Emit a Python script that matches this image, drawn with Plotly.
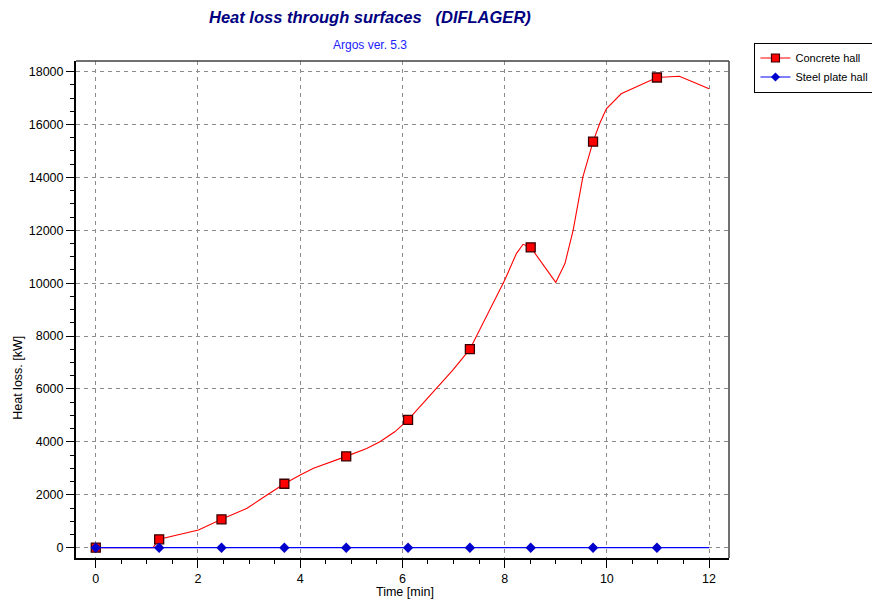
import plotly.graph_objects as go

# ---- data ----
concrete_line_t = [0.00, 1.12, 1.24, 1.65, 2.01, 2.46, 2.96, 3.35, 3.69, 4.00, 4.26,
                   4.90, 5.30, 5.56, 5.85, 6.11, 6.34, 6.80, 6.99, 7.32, 7.64, 8.00,
                   8.23, 8.36, 8.51, 8.82, 9.00, 9.18, 9.34, 9.53, 9.73, 9.86, 9.99,
                   10.28, 10.98, 11.42, 12.00]
concrete_line_kw = [0, 0, 317, 517, 668, 1073, 1488, 1990, 2417, 2745, 3000,
                    3452, 3754, 4003, 4380, 4830, 5325, 6337, 6722, 7504, 8724, 10110,
                    11120, 11470, 11356, 10487, 10030, 10740, 12000, 14011, 15350, 16035, 16594,
                    17160, 17776, 17825, 17350]

marker_t = [0, 1.24, 2.46, 3.69, 4.90, 6.11, 7.32, 8.51, 9.73, 10.98]
concrete_marker_kw = [0, 317, 1073, 2417, 3452, 4830, 7504, 11356, 15350, 17776]
steel_marker_kw = [0, 0, 0, 0, 0, 0, 0, 0, 0, 0]

steel_line_t = [0, 12]
steel_line_kw = [0, 0]

x_ticks = [0, 2, 4, 6, 8, 10, 12]
y_ticks = [0, 2000, 4000, 6000, 8000, 10000, 12000, 14000, 16000, 18000]

title_text = "Heat loss through surfaces   (DIFLAGER)"
subtitle_text = "Argos ver. 5.3"
x_title = "Time [min]"
y_title = "Heat loss. [kW]"
series_names = ["Concrete hall", "Steel plate hall"]

FONT = "Arial, Liberation Sans, sans-serif"
RED = "#FF0000"
BLUE = "#0000FF"

# page has an 8px body margin; plot frame in page pixels
OFF = 8
PL, PR, PT, PB = 75.5, 729.5, 60.5, 558.0
FIG_W, FIG_H = 880 - OFF, 608 - OFF


def px(x):
    return (x - PL) / (PR - PL)


def py(y):
    return (PB - y) / (PB - PT)


fig = go.Figure()

# Concrete hall: dense curve + markers
fig.add_trace(go.Scatter(x=concrete_line_t, y=concrete_line_kw, mode="lines",
                         line=dict(color=RED, width=1.1), showlegend=False,
                         legendgroup="c", hoverinfo="skip"))
fig.add_trace(go.Scatter(x=marker_t, y=concrete_marker_kw, mode="markers",
                         marker=dict(symbol="square", size=9, color=RED,
                                     line=dict(color="#3a0000", width=1.3)),
                         showlegend=False, legendgroup="c"))
fig.add_trace(go.Scatter(x=[None], y=[None], mode="lines+markers", name=series_names[0],
                         line=dict(color=RED, width=1.1),
                         marker=dict(symbol="square", size=8, color=RED,
                                     line=dict(color="#3a0000", width=1.2)),
                         legendgroup="c"))

# Steel plate hall
fig.add_trace(go.Scatter(x=steel_line_t, y=steel_line_kw, mode="lines",
                         line=dict(color=BLUE, width=1.2), showlegend=False,
                         legendgroup="s", hoverinfo="skip"))
fig.add_trace(go.Scatter(x=marker_t, y=steel_marker_kw, mode="markers",
                         marker=dict(symbol="diamond", size=8, color="#0000CC"),
                         showlegend=False, legendgroup="s"))
fig.add_trace(go.Scatter(x=[None], y=[None], mode="lines+markers", name=series_names[1],
                         line=dict(color=BLUE, width=1.2),
                         marker=dict(symbol="diamond", size=7, color="#0000CC"),
                         legendgroup="s"))

axis_common = dict(
    showline=True, linecolor="black", linewidth=2,
    ticks="outside", ticklen=8, tickcolor="black", tickwidth=1,
    showgrid=True, gridcolor="#8c8c8c", griddash="4px,4px", gridwidth=1,
    zeroline=False, tickfont=dict(size=12.5), tickformat="d",
)

fig.update_layout(
    width=FIG_W, height=FIG_H,
    margin=dict(l=PL - OFF, r=FIG_W - (PR - OFF), t=PT - OFF, b=FIG_H - (PB - OFF),
                autoexpand=False),
    paper_bgcolor="white", plot_bgcolor="white",
    font=dict(family=FONT, size=12.5, color="black"),
    showlegend=True,
    legend=dict(x=px(755), y=py(42), xanchor="left", yanchor="top",
                bordercolor="black", borderwidth=1, bgcolor="white",
                font=dict(family=FONT, size=11, color="black"),
                itemwidth=30, tracegroupgap=0),
    xaxis=dict(range=[-0.387, 12.39], tickmode="array", tickvals=x_ticks,
               minor=dict(dtick=0.5, ticks="outside", ticklen=4, tickcolor="black",
                          showgrid=False),
               **axis_common),
    yaxis=dict(range=[-390, 18400], tickmode="array", tickvals=y_ticks,
               minor=dict(dtick=500, ticks="outside", ticklen=4, tickcolor="black",
                          showgrid=False),
               **axis_common),
    shapes=[
        dict(type="line", xref="paper", yref="paper", x0=0, x1=1, y0=1, y1=1,
             line=dict(color="#404040", width=1.5)),
        dict(type="line", xref="paper", yref="paper", x0=1, x1=1, y0=0, y1=1,
             line=dict(color="#404040", width=1.5)),
    ],
    annotations=[
        dict(text="<b><i>" + title_text + "</i></b>", xref="paper", yref="paper",
             x=px(369.5), y=py(16), xanchor="center", yanchor="middle",
             showarrow=False, font=dict(family=FONT, size=16.5, color="#000080")),
        dict(text=subtitle_text, xref="paper", yref="paper",
             x=px(369.5), y=py(44), xanchor="center", yanchor="middle",
             showarrow=False, font=dict(family=FONT, size=12, color="#2020FF")),
        dict(text=x_title, xref="paper", yref="paper",
             x=px(405), y=py(592), xanchor="center",
             yanchor="middle", showarrow=False, font=dict(family=FONT, size=12.5)),
        dict(text=y_title, xref="paper", yref="paper",
             x=px(18), y=py(378), xanchor="center",
             yanchor="middle", showarrow=False, textangle=-90,
             font=dict(family=FONT, size=12.5)),
    ],
)

fig.write_html("out.html")
